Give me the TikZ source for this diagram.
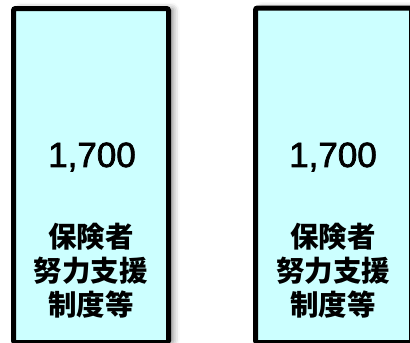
\documentclass[tikz,border=0pt]{standalone}
\usepackage{fontspec}
\setmainfont{Noto Sans CJK JP}
\newfontfamily\numfont[FakeBold=2]{Liberation Sans}
\usetikzlibrary{shadows.blur}
\definecolor{boxfill}{HTML}{CCFFFF}
\tikzset{
  bigbox/.style={draw=black, line width=5pt, fill=boxfill, rounded corners=2pt,
    blur shadow={shadow xshift=5pt, shadow yshift=0pt, shadow blur radius=6pt, shadow opacity=45}},
  numtext/.style={font=\numfont\fontsize{35}{35}\selectfont, inner sep=0pt},
  labtext/.style={font=\fontsize{28.5}{34}\selectfont\bfseries, align=center, inner sep=0pt}
}
\begin{document}
\begin{tikzpicture}[x=1pt,y=-1pt]
\useasboundingbox (0,0) rectangle (410,343);
\path[bigbox] (13.5,8.5) rectangle (168.5,342.5);
\path[bigbox] (255.5,8) rectangle (411.5,342.5);
\node[numtext] (n1) at (92,157) {1,700};
\node[numtext] (n2) at (333,157) {1,700};
\node[labtext] (l1) at (91,271) {保険者\\努力支援\\制度等};
\node[labtext] (l2) at (333,271) {保険者\\努力支援\\制度等};
\end{tikzpicture}
\end{document}
